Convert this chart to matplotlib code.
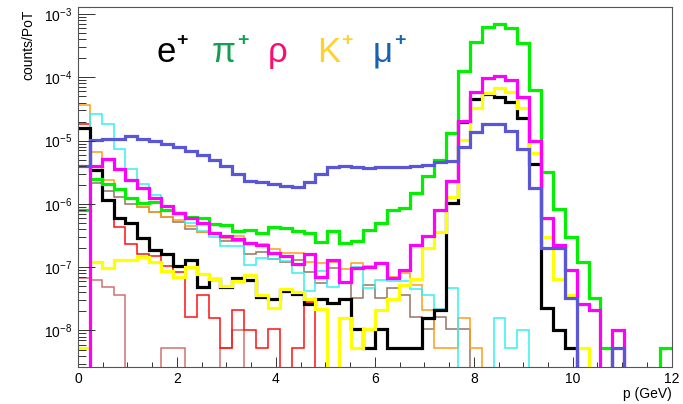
import numpy as np
import matplotlib
matplotlib.use("Agg")
import matplotlib.pyplot as plt
from matplotlib.ticker import LogLocator, MultipleLocator, LogFormatterMathtext, NullFormatter

plt.rcParams['font.family'] = ['Liberation Sans', 'DejaVu Sans']
plt.rcParams['mathtext.fontset'] = 'custom'
plt.rcParams['mathtext.rm'] = 'Liberation Sans'
plt.rcParams['mathtext.it'] = 'Liberation Sans:italic'

# momentum binning: 50 bins from 0 to 12 GeV
p_min, p_max, n_bins = 0.0, 12.0, 50

# counts per PoT in each momentum bin (0 = empty bin)
counts_black = [1.57e-5, 3.40e-6, 1.15e-6, 5.92e-7, 4.94e-7, 2.86e-7, 1.84e-7, 1.59e-7, 1.04e-7, 1.30e-7,
                4.78e-8, 6.51e-8, 4.86e-8, 6.75e-8, 6.28e-8, 3.38e-8, 3.20e-8, 4.21e-8, 3.73e-8, 2.62e-8,
                3.20e-8, 2.72e-8, 3.20e-8, 1.04e-8, 5.24e-9, 1.04e-8, 5.24e-9, 5.24e-9, 5.24e-9, 1.56e-8,
                2.11e-8, 1.05e-6, 2.00e-5, 4.49e-5, 5.39e-5, 4.94e-5, 4.12e-5, 2.30e-5, 4.22e-6, 2.25e-8,
                1.02e-8, 5.24e-9, 0, 0, 0, 0, 0, 0, 0, 0]

counts_green = [8.01e-7, 2.47e-6, 2.10e-6, 1.69e-6, 1.24e-6, 1.03e-6, 1.09e-6, 8.01e-7, 7.18e-7, 6.14e-7,
                5.99e-7, 4.73e-7, 4.64e-7, 3.73e-7, 3.94e-7, 3.47e-7, 4.36e-7, 4.09e-7, 3.73e-7, 3.43e-7,
                2.53e-7, 3.80e-7, 2.41e-7, 2.64e-7, 3.87e-7, 4.94e-7, 8.01e-7, 8.52e-7, 1.49e-6, 2.73e-6,
                4.94e-6, 1.32e-5, 1.26e-4, 3.65e-4, 6.16e-4, 6.95e-4, 5.94e-4, 3.44e-4, 6.30e-5, 3.16e-6,
                8.22e-7, 2.96e-7, 1.22e-7, 3.22e-8, 5.24e-9, 0, 0, 0, 0, 5.24e-9]

counts_magenta = [0, 4.04e-6, 5.12e-6, 3.52e-6, 2.43e-6, 1.78e-6, 1.24e-6, 9.43e-7, 7.18e-7, 5.99e-7,
                  4.94e-7, 3.43e-7, 3.11e-7, 2.74e-7, 2.44e-7, 2.27e-7, 1.68e-7, 1.50e-7, 1.12e-7, 1.62e-7,
                  7.08e-8, 1.28e-7, 5.94e-8, 9.71e-8, 1.00e-7, 1.16e-7, 6.75e-8, 9.03e-8, 2.25e-7, 3.06e-7,
                  8.01e-7, 2.30e-6, 2.06e-5, 5.92e-5, 9.64e-5, 1.06e-4, 9.07e-5, 4.94e-5, 9.96e-6, 5.92e-7,
                  2.25e-7, 9.03e-8, 2.62e-8, 2.11e-8, 0, 1.02e-8, 0, 0, 0, 0]

counts_yellow = [5.24e-9, 1.20e-7, 9.61e-8, 1.30e-7, 1.30e-7, 1.46e-7, 1.19e-7, 8.71e-8, 7.00e-8, 1.00e-7,
                 7.81e-8, 6.63e-8, 5.05e-8, 6.05e-8, 7.53e-8, 3.64e-8, 2.25e-8, 4.52e-8, 4.06e-8, 3.09e-8,
                 2.15e-8, 0, 1.56e-8, 5.24e-9, 1.04e-8, 2.11e-8, 3.18e-8, 5.24e-8, 6.51e-8, 2.00e-7,
                 3.64e-7, 1.27e-6, 1.02e-5, 3.24e-5, 5.59e-5, 6.70e-5, 5.80e-5, 3.24e-5, 6.30e-6, 2.96e-7,
                 6.51e-8, 3.64e-8, 5.24e-9, 0, 0, 0, 0, 0, 0, 0]

counts_blue = [4.04e-6, 1.02e-5, 1.06e-5, 1.06e-5, 1.18e-5, 1.08e-5, 9.85e-6, 8.84e-6, 7.92e-6, 6.98e-6,
               5.92e-6, 4.94e-6, 4.04e-6, 2.96e-6, 2.30e-6, 2.22e-6, 2.03e-6, 1.92e-6, 1.87e-6, 2.19e-6,
               2.93e-6, 3.79e-6, 4.01e-6, 3.87e-6, 3.65e-6, 3.87e-6, 3.87e-6, 3.79e-6, 3.97e-6, 4.12e-6,
               4.59e-6, 4.71e-6, 8.01e-6, 1.38e-5, 1.83e-5, 1.83e-5, 1.43e-5, 7.37e-6, 1.76e-6, 2.00e-7,
               2.00e-7, 3.22e-8, 0, 0, 0, 5.24e-9, 0, 0, 0, 0]

counts_cyan = [0, 2.66e-5, 1.84e-5, 7.29e-6, 3.60e-6, 2.03e-6, 1.38e-6, 9.28e-7, 6.93e-7, 4.99e-7,
               3.80e-7, 3.00e-7, 2.16e-7, 2.16e-7, 1.10e-7, 1.38e-7, 1.35e-7, 1.25e-7, 8.01e-8, 4.28e-8,
               8.87e-8, 4.78e-8, 5.90e-8, 1.02e-7, 4.74e-8, 6.28e-8, 6.16e-8, 6.05e-8, 4.52e-8, 3.64e-8,
               2.16e-8, 4.74e-8, 0, 0, 0, 1.56e-8, 5.24e-9, 1.02e-8, 0, 0,
               0, 0, 0, 0, 0, 0, 0, 0, 0, 0]

counts_orange = [3.72e-5, 6.73e-6, 2.43e-6, 1.75e-6, 1.24e-6, 8.93e-7, 7.53e-7, 6.32e-7, 5.57e-7, 4.47e-7,
                 3.64e-7, 3.47e-7, 2.94e-7, 3.11e-7, 2.32e-7, 2.32e-7, 1.94e-7, 1.65e-7, 1.70e-7, 1.22e-7,
                 1.15e-7, 1.22e-7, 9.28e-8, 1.18e-7, 1.03e-7, 1.12e-7, 6.88e-8, 8.19e-8, 5.24e-8, 2.11e-8,
                 5.24e-9, 5.24e-9, 1.56e-8, 5.24e-9, 0, 0, 0, 0, 0, 0,
                 0, 0, 0, 0, 0, 0, 0, 0, 0, 0]

counts_brown = [0, 2.14e-6, 1.60e-6, 1.30e-6, 9.96e-7, 9.03e-7, 7.45e-7, 6.14e-7, 5.24e-7, 4.01e-7,
                3.56e-7, 3.29e-7, 2.59e-7, 2.59e-7, 1.62e-7, 1.77e-7, 1.35e-7, 1.22e-7, 1.30e-7, 8.49e-8,
                5.63e-8, 9.71e-8, 5.84e-8, 3.26e-8, 5.24e-8, 3.26e-8, 4.69e-8, 3.64e-8, 1.64e-8, 1.06e-8,
                1.64e-8, 1.06e-8, 1.06e-8, 0, 0, 0, 0, 0, 0, 0,
                0, 0, 0, 0, 0, 0, 0, 0, 0, 0]

counts_red = [1.83e-5, 3.35e-6, 1.15e-6, 4.32e-7, 2.35e-7, 1.64e-7, 1.53e-7, 1.04e-7, 8.49e-8, 1.64e-8,
              3.64e-8, 1.56e-8, 5.24e-9, 2.11e-8, 1.03e-8, 5.24e-9, 1.04e-8, 0, 5.24e-9, 2.82e-8,
              0, 0, 0, 0, 0, 0, 0, 0, 0, 0,
              0, 0, 0, 0, 0, 0, 0, 0, 0, 0,
              0, 0, 0, 0, 0, 0, 0, 0, 0, 0]

counts_rose = [6.83e-8, 6.28e-8, 4.92e-8, 3.64e-8, 0, 0, 0, 5.24e-9, 5.24e-9, 0,
               0, 0, 5.24e-9, 1.02e-8, 0, 0, 0, 0, 0, 0,
               0, 0, 0, 0, 0, 0, 0, 0, 0, 0,
               0, 0, 0, 0, 0, 0, 0, 0, 0, 0,
               0, 0, 0, 0, 0, 0, 0, 0, 0, 0]

labels = ["e", "\u03c0", "\u03c1", "K", "\u03bc"]
label_sup = ["+", "+", "", "+", "+"]
label_colors = ["#000000", "#10a050", "#ff0a6e", "#ffd22a", "#1462b4"]

y_min, y_max = 2.62e-9, 1.277e-3

edges = np.linspace(p_min, p_max, n_bins + 1)

fig = plt.figure(figsize=(6.83, 4.04), dpi=100)
ax = fig.add_axes([0.1142, 0.0908, 0.8692, 0.8911])
ax.set_yscale("log")
ax.set_xlim(p_min, p_max)
ax.set_ylim(y_min, y_max)

floor = 1e-14  # empty bins drop to the bottom of the frame

def draw(vals, color, lw):
    v = np.asarray(vals, dtype=float)
    v = np.where(v > 0, v, floor)
    ax.stairs(v, edges, baseline=None, color=color, lw=lw, joinstyle="miter")

thin, thick = 1.1, 2.3
draw(counts_rose, "#d47070", thin)
draw(counts_red, "#ff1010", thin)
draw(counts_brown, "#957464", thin)
draw(counts_orange, "#ff9c1a", thin)
draw(counts_cyan, "#33f0f0", thin)
draw(counts_black, "#000000", thick)
draw(counts_yellow, "#ffff00", thick)
draw(counts_green, "#00f000", thick)
draw(counts_magenta, "#ff00ff", thick)
draw(counts_blue, "#5a56d8", thick)

# axes styling
for s in ax.spines.values():
    s.set_color("#555555")
    s.set_linewidth(0.8)

ax.xaxis.set_major_locator(MultipleLocator(2))
ax.xaxis.set_minor_locator(MultipleLocator(0.5))
ax.yaxis.set_major_locator(LogLocator(base=10))
ax.yaxis.set_minor_locator(LogLocator(base=10, subs=np.arange(2, 10)))
ax.yaxis.set_major_formatter(LogFormatterMathtext())
ax.yaxis.set_minor_formatter(NullFormatter())

ax.tick_params(which="both", direction="in", top=False, right=False,
               color="#333333", width=0.7, labelsize=10)
ax.tick_params(axis="x", which="major", length=7.2, pad=3.5)
ax.tick_params(axis="x", which="minor", length=3.6)
ax.tick_params(axis="y", which="major", length=12, pad=4)
ax.tick_params(axis="y", which="minor", length=5.8)

W, H = 683.0, 404.0

fig.text(672 / W, 1 - 398 / H, "p (GeV)", ha="right", va="baseline", fontsize=10)
fig.text(28 / W, 1 - 10 / H, "counts/PoT", rotation=90, ha="center", va="top", fontsize=10)

# particle labels
xs = [156, 212, 268, 317, 373]
for x, lab, sup, col in zip(xs, labels, label_sup, label_colors):
    t = fig.text(x / W, 1 - 62 / H, lab, color=col, fontsize=25, ha="left", va="baseline")
    if sup:
        fig.canvas.draw()
        bb = t.get_window_extent()
        fig.text((bb.x1 + 1) / W, 1 - 45 / H, sup, color=col, fontsize=14,
                 fontweight="bold", ha="left", va="baseline")

fig.savefig("out.png", dpi=100)
